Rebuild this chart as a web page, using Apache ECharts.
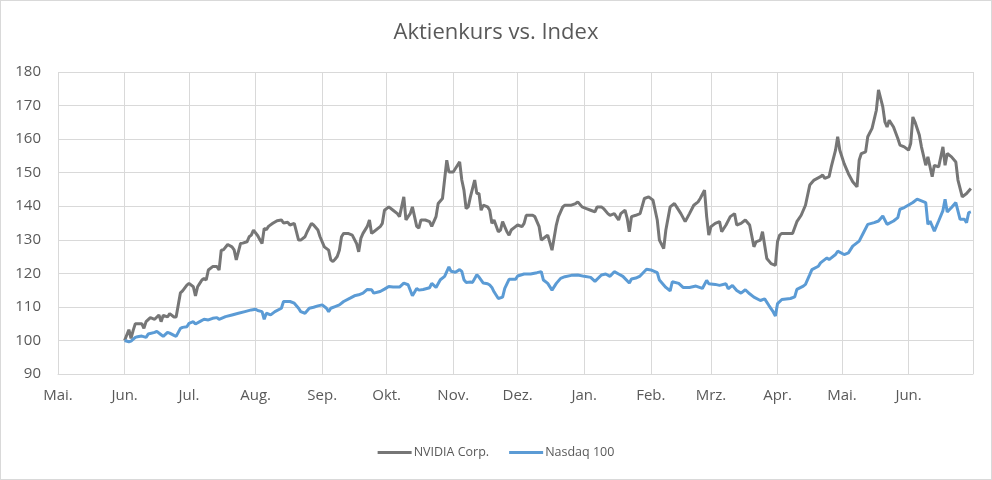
<!DOCTYPE html>
<html>
<head>
<meta charset="utf-8">
<script src="https://cdn.jsdelivr.net/npm/echarts@6/dist/echarts.min.js"></script>
<style>
  html, body { margin: 0; padding: 0; background: #fff; }
  #chart { width: 990px; height: 478px; border: 1px solid #d9d9d9; }
</style>
</head>
<body>
<div id="chart"></div>
<script>
// German month labels for the x axis
const monthLabels = ['Jan.', 'Feb.', 'Mrz.', 'Apr.', 'Mai.', 'Jun.', 'Jul.', 'Aug.', 'Sep.', 'Okt.', 'Nov.', 'Dez.'];
const yTicks = [90, 100, 110, 120, 130, 140, 150, 160, 170, 180];

const nvdaDates = [
  '2022-06-01','2022-06-03','2022-06-04','2022-06-05','2022-06-06','2022-06-09','2022-06-10','2022-06-11','2022-06-13','2022-06-15',
  '2022-06-17','2022-06-18','2022-06-19','2022-06-21','2022-06-22','2022-06-24','2022-06-25','2022-06-26','2022-06-27','2022-06-28',
  '2022-06-30','2022-07-01','2022-07-03','2022-07-04','2022-07-05','2022-07-06','2022-07-07','2022-07-08','2022-07-09','2022-07-10',
  '2022-07-12','2022-07-14','2022-07-15','2022-07-16','2022-07-17','2022-07-19','2022-07-21','2022-07-22','2022-07-23','2022-07-25',
  '2022-07-26','2022-07-28','2022-07-29','2022-07-30','2022-07-31','2022-08-02','2022-08-03','2022-08-04','2022-08-05','2022-08-06',
  '2022-08-07','2022-08-09','2022-08-11','2022-08-13','2022-08-14','2022-08-16','2022-08-17','2022-08-19','2022-08-20','2022-08-21',
  '2022-08-22','2022-08-24','2022-08-25','2022-08-27','2022-08-28','2022-08-30','2022-08-31','2022-09-02','2022-09-04','2022-09-05',
  '2022-09-06','2022-09-07','2022-09-08','2022-09-09','2022-09-10','2022-09-11','2022-09-13','2022-09-15','2022-09-17','2022-09-18',
  '2022-09-19','2022-09-20','2022-09-22','2022-09-23','2022-09-24','2022-09-25','2022-09-28','2022-09-29','2022-09-30','2022-10-02',
  '2022-10-04','2022-10-06','2022-10-07','2022-10-09','2022-10-10','2022-10-11','2022-10-12','2022-10-13','2022-10-15','2022-10-16',
  '2022-10-17','2022-10-19','2022-10-21','2022-10-22','2022-10-24','2022-10-25','2022-10-27','2022-10-29','2022-10-30','2022-11-01',
  '2022-11-03','2022-11-04','2022-11-05','2022-11-06','2022-11-07','2022-11-08','2022-11-09','2022-11-11','2022-11-12','2022-11-13',
  '2022-11-14','2022-11-15','2022-11-17','2022-11-18','2022-11-19','2022-11-20','2022-11-22','2022-11-23','2022-11-24','2022-11-26',
  '2022-11-27','2022-11-28','2022-11-30','2022-12-01','2022-12-03','2022-12-04','2022-12-05','2022-12-08','2022-12-09','2022-12-11',
  '2022-12-12','2022-12-14','2022-12-15','2022-12-17','2022-12-19','2022-12-20','2022-12-22','2022-12-23','2022-12-26','2022-12-28',
  '2022-12-29','2022-12-31','2023-01-02','2023-01-04','2023-01-06','2023-01-07','2023-01-09','2023-01-10','2023-01-12','2023-01-13',
  '2023-01-15','2023-01-17','2023-01-18','2023-01-20','2023-01-21','2023-01-22','2023-01-23','2023-01-25','2023-01-27','2023-01-29',
  '2023-01-31','2023-02-02','2023-02-04','2023-02-05','2023-02-07','2023-02-08','2023-02-10','2023-02-12','2023-02-13','2023-02-15',
  '2023-02-17','2023-02-19','2023-02-21','2023-02-23','2023-02-24','2023-02-26','2023-02-27','2023-02-28','2023-03-01','2023-03-03',
  '2023-03-05','2023-03-06','2023-03-08','2023-03-10','2023-03-12','2023-03-13','2023-03-15','2023-03-17','2023-03-19','2023-03-21',
  '2023-03-22','2023-03-24','2023-03-25','2023-03-27','2023-03-29','2023-03-31','2023-04-01','2023-04-02','2023-04-03','2023-04-06',
  '2023-04-08','2023-04-10','2023-04-12','2023-04-13','2023-04-14','2023-04-16','2023-04-18','2023-04-21','2023-04-22','2023-04-23',
  '2023-04-25','2023-04-26','2023-04-28','2023-04-29','2023-04-30','2023-05-02','2023-05-04','2023-05-06','2023-05-08','2023-05-09',
  '2023-05-10','2023-05-12','2023-05-13','2023-05-15','2023-05-17','2023-05-18','2023-05-20','2023-05-21','2023-05-22','2023-05-23',
  '2023-05-25','2023-05-27','2023-05-28','2023-05-30','2023-06-01','2023-06-02','2023-06-03','2023-06-04','2023-06-06','2023-06-07',
  '2023-06-09','2023-06-10','2023-06-12','2023-06-13','2023-06-15','2023-06-17','2023-06-18','2023-06-19','2023-06-21','2023-06-23',
  '2023-06-24','2023-06-26','2023-06-28','2023-06-30'
];
const nvdaValues = [
  100, 103.2, 100.6, 103, 105, 105, 103.6, 105.6, 106.8, 106.3,
  107.6, 105.6, 107.5, 107, 108, 107, 107, 110.6, 114.2, 114.8,
  116.5, 117, 116, 113.3, 116, 117, 118, 118.5, 118, 121,
  122, 122, 121, 126.9, 127, 128.6, 127.9, 127, 124, 128.9,
  129, 129.4, 130.9, 131.4, 132.9, 131.2, 130, 128.9, 133.4, 133,
  134, 134.9, 135.7, 135.9, 135, 135.2, 134.4, 134.9, 132.4, 129.9,
  129.9, 130.9, 132.4, 134.9, 134.4, 132.9, 130.9, 127.9, 126.9, 124,
  123.5, 124.2, 125, 126.9, 130.9, 131.9, 131.9, 131.4, 128.9, 126.4,
  130.4, 131.9, 134, 135.9, 131.9, 132.4, 133.9, 134.9, 138.8, 139.8,
  138.8, 137.8, 136.9, 142.8, 135.9, 136.9, 137.8, 139.8, 134, 133.5,
  135.9, 135.9, 135.4, 134, 136.9, 140.8, 142.3, 153.7, 150.2, 150.2,
  152.2, 153.2, 147.8, 144.8, 139.3, 139.8, 142.8, 147.8, 143.8, 143.8,
  138.8, 140.3, 139.8, 138.8, 134.9, 135.9, 132.4, 132.9, 135.4, 132.4,
  131.4, 132.9, 133.9, 134.4, 133.9, 134.9, 137.3, 137.3, 136.9, 133.9,
  129.9, 130.9, 131.4, 126.9, 134.4, 136.9, 139.8, 140.3, 140.3, 140.8,
  141.3, 139.8, 139.3, 138.8, 138.3, 139.8, 139.8, 139.3, 137.8, 137.3,
  137.8, 135.9, 137.8, 138.8, 136.4, 132.4, 136.9, 137.3, 137.8, 142.3,
  142.8, 141.8, 135.9, 129.9, 127.4, 132.9, 139.8, 140.8, 139.8, 137.8,
  135.4, 137.8, 140.3, 141.3, 142.3, 144.8, 136.9, 131.4, 133.9, 134.9,
  135.4, 132.4, 134.4, 136.9, 137.8, 134.4, 134.9, 135.9, 134.4, 127.9,
  129.4, 129.9, 132.4, 124.4, 122.9, 122.4, 129.5, 131.4, 131.9, 131.9,
  131.9, 135.4, 137.3, 138.8, 140.3, 146.3, 147.8, 148.8, 149.3, 148.3,
  148.8, 151.7, 156.7, 160.7, 156.7, 152.7, 149.7, 147.3, 145.8, 153.7,
  155.7, 156.2, 160.7, 163.2, 168.6, 174.7, 169.6, 165.1, 163.6, 165.6,
  163.6, 160.2, 158.2, 157.7, 156.7, 158.7, 166.6, 165.1, 161.2, 157.7,
  152.2, 154.7, 148.8, 152.2, 151.7, 157.7, 152.2, 155.7, 154.7, 153.2,
  147.8, 142.8, 143.8, 145.3
];

const ndxDates = [
  '2022-06-01','2022-06-03','2022-06-04','2022-06-06','2022-06-07','2022-06-09','2022-06-11','2022-06-12','2022-06-15','2022-06-16',
  '2022-06-18','2022-06-19','2022-06-21','2022-06-22','2022-06-24','2022-06-25','2022-06-27','2022-06-28','2022-06-30','2022-07-01',
  '2022-07-03','2022-07-04','2022-07-06','2022-07-08','2022-07-10','2022-07-12','2022-07-14','2022-07-15','2022-07-18','2022-07-21',
  '2022-07-24','2022-07-27','2022-07-30','2022-08-01','2022-08-02','2022-08-04','2022-08-05','2022-08-06','2022-08-08','2022-08-10',
  '2022-08-13','2022-08-14','2022-08-17','2022-08-19','2022-08-21','2022-08-22','2022-08-24','2022-08-26','2022-08-28','2022-08-30',
  '2022-09-01','2022-09-03','2022-09-04','2022-09-05','2022-09-07','2022-09-09','2022-09-11','2022-09-14','2022-09-16','2022-09-18',
  '2022-09-20','2022-09-22','2022-09-24','2022-09-25','2022-09-28','2022-09-30','2022-10-02','2022-10-04','2022-10-07','2022-10-09',
  '2022-10-11','2022-10-13','2022-10-15','2022-10-16','2022-10-18','2022-10-21','2022-10-22','2022-10-24','2022-10-26','2022-10-28',
  '2022-10-30','2022-10-31','2022-11-02','2022-11-04','2022-11-05','2022-11-06','2022-11-07','2022-11-09','2022-11-10','2022-11-12',
  '2022-11-13','2022-11-15','2022-11-17','2022-11-18','2022-11-19','2022-11-20','2022-11-22','2022-11-24','2022-11-25','2022-11-27',
  '2022-11-30','2022-12-01','2022-12-04','2022-12-07','2022-12-10','2022-12-12','2022-12-13','2022-12-15','2022-12-17','2022-12-19',
  '2022-12-21','2022-12-23','2022-12-26','2022-12-29','2023-01-01','2023-01-04','2023-01-06','2023-01-09','2023-01-11','2023-01-13',
  '2023-01-15','2023-01-17','2023-01-19','2023-01-22','2023-01-23','2023-01-25','2023-01-27','2023-01-30','2023-02-01','2023-02-04',
  '2023-02-05','2023-02-08','2023-02-10','2023-02-11','2023-02-14','2023-02-16','2023-02-19','2023-02-22','2023-02-25','2023-02-27',
  '2023-02-28','2023-03-03','2023-03-05','2023-03-08','2023-03-09','2023-03-11','2023-03-13','2023-03-15','2023-03-17','2023-03-19',
  '2023-03-21','2023-03-24','2023-03-26','2023-03-28','2023-03-30','2023-03-31','2023-04-01','2023-04-03','2023-04-07','2023-04-09',
  '2023-04-10','2023-04-13','2023-04-14','2023-04-16','2023-04-17','2023-04-20','2023-04-21','2023-04-24','2023-04-25','2023-04-28',
  '2023-04-29','2023-05-02','2023-05-04','2023-05-06','2023-05-09','2023-05-11','2023-05-13','2023-05-16','2023-05-18','2023-05-20',
  '2023-05-22','2023-05-25','2023-05-27','2023-05-28','2023-05-30','2023-06-03','2023-06-05','2023-06-07','2023-06-09','2023-06-10',
  '2023-06-11','2023-06-13','2023-06-15','2023-06-17','2023-06-18','2023-06-19','2023-06-21','2023-06-23','2023-06-25','2023-06-27',
  '2023-06-28','2023-06-29','2023-06-30'
];
const ndxValues = [
  100, 99.6, 99.8, 100.9, 101.1, 101.3, 100.9, 101.9, 102.4, 102.7,
  101.7, 101.2, 102.4, 102.2, 101.5, 101.2, 103.6, 103.9, 104.1, 105.1,
  105.6, 104.9, 105.6, 106.3, 106.1, 106.6, 106.8, 106.3, 107.1, 107.6,
  108.1, 108.6, 109.1, 109.3, 108.9, 108.6, 106.3, 108.1, 107.6, 108.6,
  109.6, 111.6, 111.6, 111.1, 109.6, 108.6, 108.1, 109.6, 109.9, 110.3,
  110.6, 109.6, 108.6, 109.6, 110.1, 110.6, 111.6, 112.6, 113.3, 113.6,
  114.1, 115.2, 115.1, 114.1, 114.6, 115.3, 116.1, 115.9, 115.9, 117.1,
  116.6, 113.3, 115.5, 115, 115.2, 115.7, 117, 115.8, 118.1, 119.1,
  121.9, 120.6, 120.3, 121.1, 120.6, 118.1, 117.3, 117.4, 117.3, 119.6,
  118.9, 117.1, 116.9, 116.5, 115.8, 114.5, 112.5, 112.9, 115.5, 118.2,
  118.2, 119.2, 119.8, 119.8, 120.2, 120.5, 118, 117, 115, 117,
  118.5, 119, 119.4, 119.5, 119.1, 118.8, 117.6, 119.5, 119.8, 119.1,
  120.5, 119.8, 119.1, 117.1, 118.3, 118.6, 119.2, 121.2, 121, 120.2,
  118, 115.8, 114.8, 117.5, 117, 115.8, 115.8, 116.2, 115.5, 117.9,
  116.9, 116.7, 116.4, 116.9, 115.4, 116.4, 114.9, 114.1, 115.1, 113.9,
  112.9, 111.9, 112.4, 110.4, 108.5, 107.3, 111, 112.2, 112.5, 113,
  115.2, 116.2, 116.7, 119.6, 121.1, 122.1, 123.1, 124.6, 124.1, 125.6,
  126.6, 125.6, 126.1, 128.1, 129.6, 132.1, 134.6, 135.1, 135.6, 137.1,
  134.6, 135.6, 136.6, 139.1, 139.6, 141.1, 142.1, 141.6, 141.1, 134.6,
  135.6, 132.6, 135.6, 138.7, 142.1, 138.3, 139.6, 141.1, 136.1, 136.1,
  135.1, 138.1, 138.3
];

const zip = (dates, values) => dates.map((d, i) => [d, values[i]]);

const textColor = '#595959';
const gridColor = '#d9d9d9';
const DAY = 24 * 3600 * 1000;

const option = {
  animation: false,
  backgroundColor: '#fff',
  textStyle: { fontFamily: 'Open Sans', color: textColor },
  title: {
    text: 'Aktienkurs vs. Index',
    left: 'center',
    top: 16,
    textStyle: { fontFamily: 'Open Sans', fontSize: 22, fontWeight: 'normal', color: textColor }
  },
  legend: {
    bottom: 15,
    left: 'center',
    icon: 'rect',
    itemWidth: 34,
    itemHeight: 3,
    itemGap: 20,
    textStyle: { fontSize: 12.5, color: textColor, padding: [0, 0, 0, -3] },
    data: ['NVIDIA Corp.', 'Nasdaq 100']
  },
  grid: {
    left: 57,
    right: 18,
    top: 71,
    bottom: 105,
    containLabel: false
  },
  xAxis: {
    type: 'time',
    min: '2022-05-01',
    max: '2023-07-01',
    splitNumber: 14,
    minInterval: 28 * DAY,
    maxInterval: 31 * DAY,
    axisLine: { lineStyle: { color: gridColor, width: 1 } },
    axisTick: { show: false },
    splitLine: { show: true, lineStyle: { color: gridColor, width: 1 } },
    axisLabel: {
      color: textColor,
      fontSize: 15,
      margin: 14,
      formatter: (value) => {
        const d = new Date(value);
        // the closing tick (July of the second year) carries no label
        if (d.getFullYear() === 2023 && d.getMonth() === 6) return '';
        return monthLabels[d.getMonth()];
      }
    }
  },
  yAxis: {
    type: 'value',
    min: yTicks[0],
    max: yTicks[yTicks.length - 1],
    interval: 10,
    axisLine: { show: false },
    axisTick: { show: false },
    splitLine: { lineStyle: { color: gridColor, width: 1 } },
    axisLabel: { color: textColor, fontSize: 15, margin: 17 }
  },
  series: [
    {
      name: 'NVIDIA Corp.',
      type: 'line',
      data: zip(nvdaDates, nvdaValues),
      showSymbol: false,
      symbol: 'none',
      color: '#767676',
      lineStyle: { color: '#767676', width: 3 }
    },
    {
      name: 'Nasdaq 100',
      type: 'line',
      data: zip(ndxDates, ndxValues),
      showSymbol: false,
      symbol: 'none',
      color: '#5b9bd5',
      lineStyle: { color: '#5b9bd5', width: 3 }
    }
  ]
};

const myChart = echarts.init(document.getElementById('chart'));
myChart.setOption(option);
</script>
</body>
</html>
